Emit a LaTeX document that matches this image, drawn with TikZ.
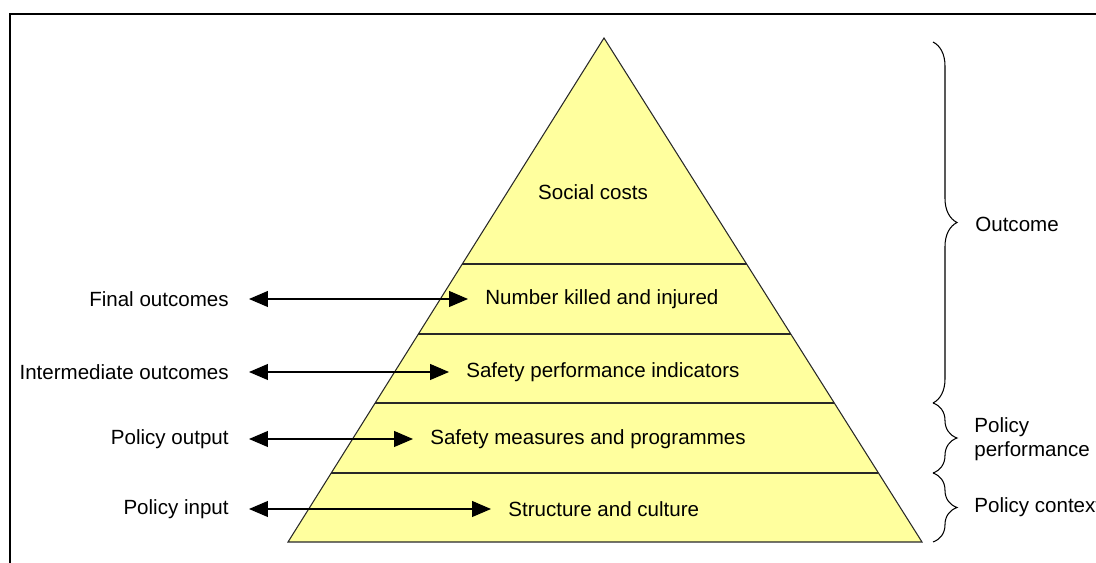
\documentclass[tikz,border=0pt]{standalone}
\usepackage{fontspec}
\setmainfont{Liberation Sans}
\usetikzlibrary{arrows.meta, decorations.pathreplacing, calc}

\definecolor{pyrfill}{RGB}{255,255,158}
\definecolor{pyrline}{RGB}{40,40,40}

\begin{document}
\begin{tikzpicture}[x=0.02cm, y=-0.02cm,
    % Define the styles for labels, arrows and braces
    lbl/.style={font=\fontsize{11.7}{13.6}\selectfont, inner sep=0pt},
    dblarrow/.style={{Triangle[length=0.38cm, width=0.32cm]}-{Triangle[length=0.38cm, width=0.32cm]},
        line width=0.6pt, shorten <=0.4cm, shorten >=0.34cm},
    bracedeco/.style={decoration={brace, amplitude=0.48cm}, decorate, line width=0.6pt}
]

% Fix the size of the picture
\clip (0,0) rectangle (1096,563);

% Frame around the picture
\draw[line width=1.4pt] (10,14) rectangle (1110,580);

% Define the points of the pyramid
\coordinate (T) at (604,38);
\coordinate (L) at (288,542);
\coordinate (R) at (922,542);

% Draw the pyramid
\draw[fill=pyrfill, draw=pyrline, line width=0.6pt] (T) -- (L) -- (R) -- cycle;

% Draw the layer lines
\foreach \yy in {264,334,403,473}
    \draw[pyrline, line width=0.6pt] ($(T)!{(\yy-38)/504}!(L)$) -- ($(T)!{(\yy-38)/504}!(R)$);

% Add the layer texts
\node[lbl] (costs) at (593,192) {Social costs};
\node[lbl, anchor=west] (killed) at (485,299) {Number killed and injured};
\node[lbl, anchor=west] (spi) at (466,372) {Safety performance indicators};
\node[lbl, anchor=west] (measures) at (430,439) {Safety measures and programmes};
\node[lbl, anchor=west] (culture) at (508,509) {Structure and culture};

% Add the left labels
\node[lbl, anchor=east] (final) at (229,299) {Final outcomes};
\node[lbl, anchor=east] (inter) at (229,372) {Intermediate outcomes};
\node[lbl, anchor=east] (output) at (229,439) {Policy output};
\node[lbl, anchor=east] (input) at (229,509) {Policy input};

% Draw the double arrows
\draw[dblarrow] (final.east) -- (killed.west);
\draw[dblarrow] (inter.east) -- (spi.west);
\draw[dblarrow] (output.east) -- (measures.west);
\draw[dblarrow] (input.east) -- (culture.west);

% Draw the braces on the right
\coordinate (B1) at (933,42);
\coordinate (B2) at (933,403);
\coordinate (B3) at (933,473);
\coordinate (B4) at (933,542);
\draw[bracedeco] (B1) -- (B2);
\draw[bracedeco] (B2) -- (B3);
\draw[bracedeco] (B3) -- (B4);

% Add the right labels
\node[lbl, anchor=west] (outcome) at (975,224) {Outcome};
\node[lbl, anchor=west, align=left] (perf) at (974,439) {Policy\\performance};
\node[lbl, anchor=west] (context) at (974,507) {Policy context};

\end{tikzpicture}
\end{document}
